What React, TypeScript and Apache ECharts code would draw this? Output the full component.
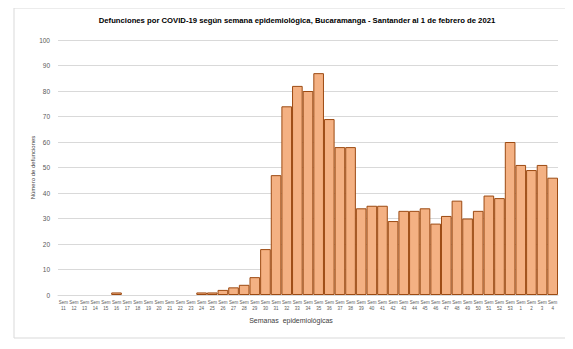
import React, { useEffect, useRef } from "react";
import * as echarts from "echarts";

const weeks: string[] = [
  "11", "12", "13", "14", "15", "16", "17", "18", "19", "20", "21", "22", "23", "24", "25", "26",
  "27", "28", "29", "30", "31", "32", "33", "34", "35", "36", "37", "38", "39", "40", "41", "42",
  "43", "44", "45", "46", "47", "48", "49", "50", "51", "52", "53", "1", "2", "3", "4",
];
const deaths: number[] = [
  0, 0, 0, 0, 0, 1, 0, 0, 0, 0, 0, 0, 0, 1, 1, 2,
  3, 4, 7, 18, 47, 74, 82, 80, 87, 69, 58, 58, 34, 35, 35, 29,
  33, 33, 34, 28, 31, 37, 30, 33, 39, 38, 60, 51, 49, 51, 46,
];
const categories: string[] = weeks.map((w) => "Sem\n" + w);

const titleText =
  "Defunciones por COVID-19 según semana epidemiológica, Bucaramanga - Santander al 1 de febrero de 2021";

export default function App() {
  const ref = useRef<HTMLDivElement>(null);
  useEffect(() => {
    if (!ref.current) return;
    const chart = echarts.init(ref.current, undefined, { renderer: "svg" });
    chart.setOption({
      animation: false,
      backgroundColor: "#ffffff",
      textStyle: { fontFamily: "Liberation Sans" },
      title: {
        text: titleText,
        left: 284,
        top: 3,
        textAlign: "center",
        textStyle: { fontSize: 7.7, fontWeight: "bold", color: "#000000", fontFamily: "Liberation Sans" },
      },
      graphic: [
        {
          type: "rect",
          shape: { x: 6, y: 0, width: 600, height: 330 },
          style: { fill: "none", stroke: "#d9d9d9", lineWidth: 1 },
          silent: true,
        },
      ],
      grid: { left: 50, right: 7, top: 32, bottom: 46 },
      xAxis: {
        type: "category",
        data: categories,
        name: "Semanas  epidemiológicas",
        nameLocation: "middle",
        nameGap: 22,
        nameMoveOverlap: false,
        nameTextStyle: { fontSize: 7, color: "#404040", padding: [0, 34, 0, 0] },
        axisLine: { lineStyle: { color: "#d9d9d9" } },
        axisTick: { show: false },
        axisLabel: { interval: 0, fontSize: 4.5, color: "#595959", lineHeight: 6, margin: 4 },
      },
      yAxis: {
        type: "value",
        min: 0,
        max: 100,
        interval: 10,
        name: "Número de defunciones",
        nameLocation: "middle",
        nameGap: 22,
        nameMoveOverlap: false,
        nameTextStyle: { fontSize: 6, color: "#404040" },
        axisLine: { show: false },
        axisTick: { show: false },
        axisLabel: { fontSize: 6.5, color: "#595959", margin: 8 },
        splitLine: { lineStyle: { color: "#d9d9d9" } },
      },
      series: [
        {
          type: "bar",
          data: deaths.map((v) => ({ value: v, itemStyle: { borderWidth: v === 0 ? 0 : 1 } })),
          barCategoryGap: "0%",
          itemStyle: { color: "#F4B183", borderColor: "#9C4A12", borderWidth: 1 },
        },
      ],
    });
    return () => chart.dispose();
  }, []);
  return <div ref={ref} style={{ width: 557, height: 333 }} />;
}
